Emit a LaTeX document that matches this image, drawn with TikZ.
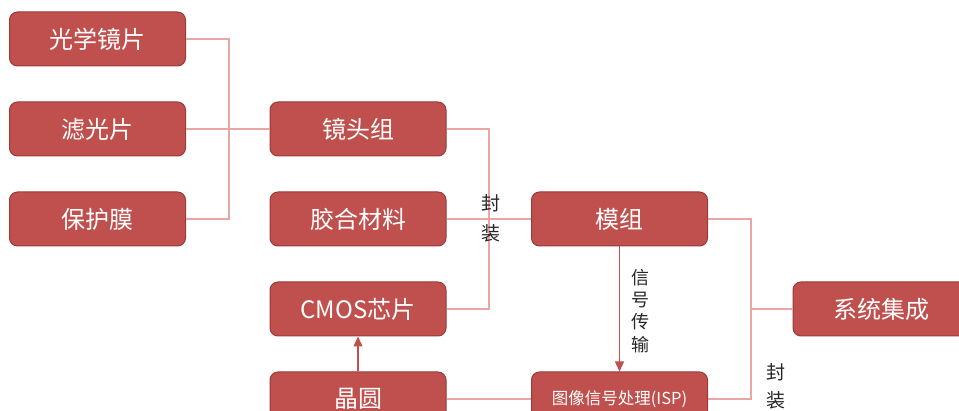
\documentclass[tikz,border=0pt]{standalone}
\usepackage{fontspec}
\setmainfont{Noto Sans CJK SC}
\usetikzlibrary{arrows.meta}
\definecolor{boxfill}{HTML}{C0504D}
\definecolor{boxline}{HTML}{9A3A38}
\definecolor{linkc}{HTML}{E8A6A5}
\definecolor{labc}{HTML}{262626}
\tikzset{
  stagebox/.style={draw=boxline, line width=1pt, fill=boxfill, rounded corners=8pt,
    minimum width=176pt, minimum height=54pt, inner sep=0pt, text=white,
    font=\fontsize{24}{28}\selectfont},
  linkline/.style={draw=linkc, line width=1.5pt},
  arrowline/.style={draw=boxfill, line width=1.3pt, -{Triangle[width=9pt,length=10pt]}},
  vlabel/.style={text=labc, align=center, inner sep=0pt}
}
\begin{document}
\begin{tikzpicture}[x=1pt,y=-1pt]
\clip (0,0) rectangle (959,411);
\fill[white] (0,0) rectangle (959,411);
% column 1
\node[stagebox] (a1) at (97.5,39) {光学镜片};
\node[stagebox] (a2) at (97.5,129) {滤光片};
\node[stagebox] (a3) at (97.5,219) {保护膜};
% column 2
\node[stagebox] (b1) at (358,129) {镜头组};
\node[stagebox] (b2) at (358,219) {胶合材料};
\node[stagebox] (b3) at (358,309) {CMOS芯片};
\node[stagebox] (b4) at (358,399) {晶圆};
% column 3
\node[stagebox] (c1) at (619.5,219) {模组};
\node[stagebox, font=\fontsize{16.5}{20}\selectfont] (c2) at (619.5,399) {图像信号处理(ISP)};
% column 4
\node[stagebox] (d1) at (881,309) {系统集成};
% junctions
\coordinate (m1) at (229,129);
\coordinate (m2) at (489,219);
\coordinate (m3) at (751,309);
% links
\draw[linkline] (a1.east) -| (m1);
\draw[linkline] (a3.east) -| (m1);
\draw[linkline] (a2.east) -- (b1.west);
\draw[linkline] (b1.east) -| (m2);
\draw[linkline] (b3.east) -| (m2);
\draw[linkline] (b2.east) -- (c1.west);
\draw[linkline] (c1.east) -| (m3);
\draw[linkline] (c2.east) -| (m3);
\draw[linkline] (m3) -- (d1.west);
\draw[linkline] (b4.east) -- (c2.west);
% arrows
\draw[arrowline] (c1.south) -- (c2.north);
\draw[arrowline] (b4.north) -- (b3.south);
% labels
\node[vlabel, font=\fontsize{19}{30}\selectfont] (l1) at (491,218) {封\\装};
\node[vlabel, font=\fontsize{19}{28}\selectfont] (l2) at (776,386) {封\\装};
\node[vlabel, font=\fontsize{18}{22.3}\selectfont] (l3) at (640,311) {信\\号\\传\\输};
\end{tikzpicture}
\end{document}
